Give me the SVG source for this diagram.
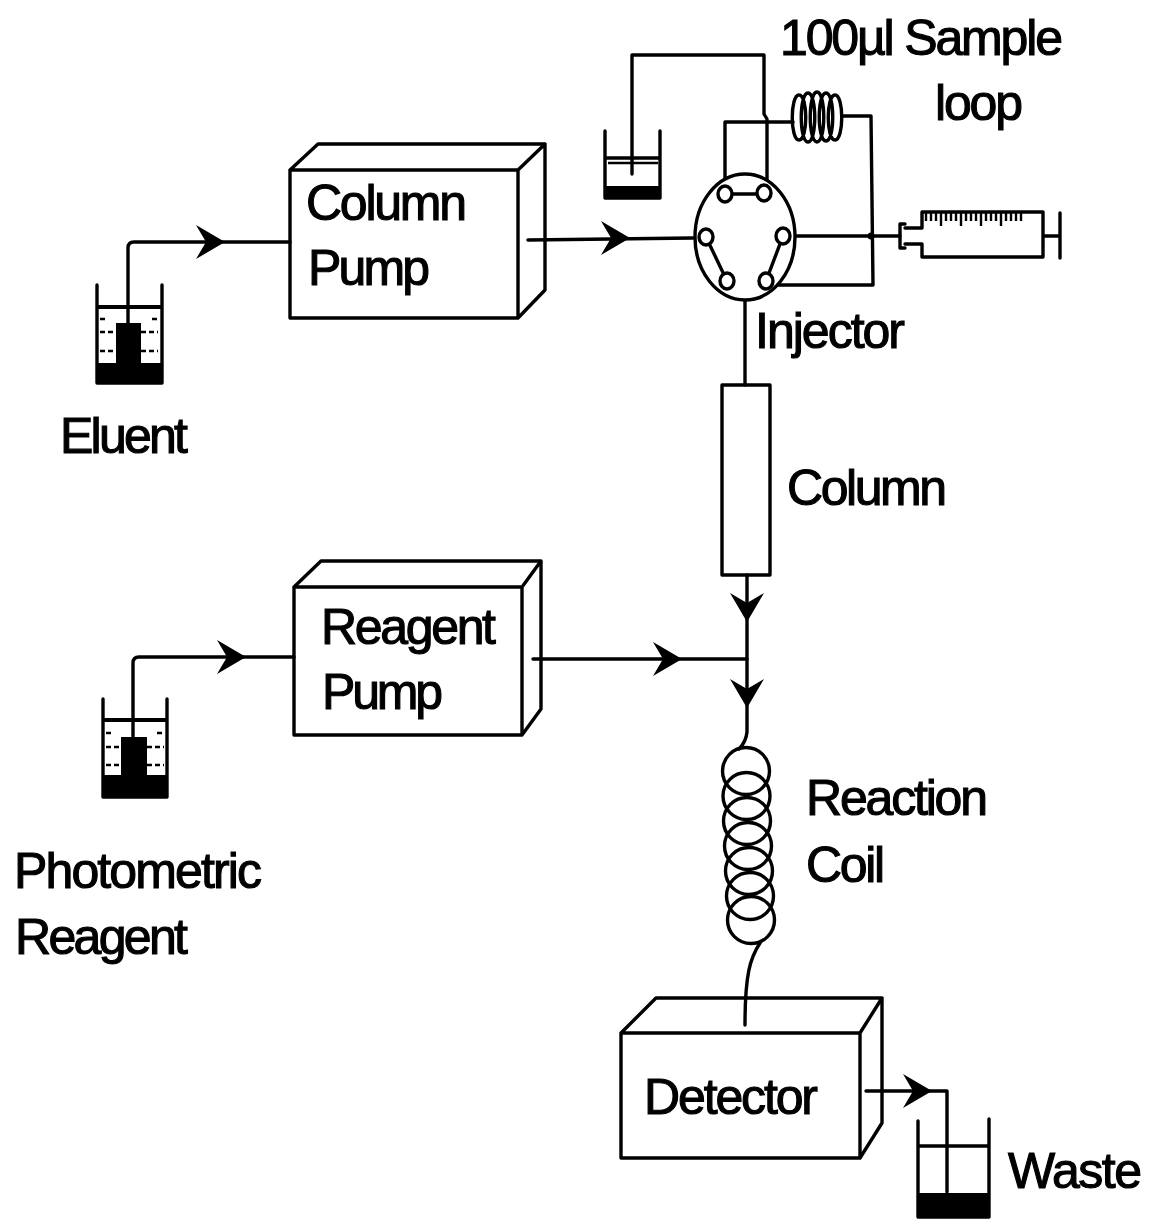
<svg xmlns="http://www.w3.org/2000/svg" width="1150" height="1219" viewBox="0 0 1150 1219">
<style>
.l{fill:none;stroke:#000;stroke-width:3.4;stroke-linejoin:round;stroke-linecap:round}
.t{fill:none;stroke:#000;stroke-width:2.4}
.b{fill:#000;stroke:none}
.w{fill:#fff;stroke:#000;stroke-width:3.4}
text{font-family:"Liberation Sans",Arial,sans-serif;font-size:50px;fill:#000;stroke:#000;stroke-width:1.1}
</style>
<defs>
<path id="ah" class="b" d="M0 0L-29-17L-19 0L-29 17Z" fill="#000"/>
</defs>
<rect width="1150" height="1219" fill="#fff"/>
<g id="connectors">
<path class="l" d="M128 323V248Q128 242 134 242H290"/>
<path class="l" d="M528 240L693 238"/>
<path class="l" d="M133 737V663Q133 657 139 657H294"/>
<path class="l" d="M533 659H747"/>
<path class="l" d="M745 300V385"/>
<path class="l" d="M747 575V732Q746 742 739 749"/>
<path class="l" d="M760 943C750 958 745 975 745 1025"/>
<path class="l" d="M866 1091H947V1192"/>
<path class="l" d="M632 174V55H764V114L767 119V187"/>
<path class="l" d="M725 187V122H793"/>
<path class="l" d="M842 116H871L873 285H775"/>
<path class="l" d="M793 236H900"/>
<circle class="b" cx="871" cy="236" r="3.500"/>
<use href="#ah" transform="translate(225 242)"/>
<use href="#ah" transform="translate(630 238)"/>
<use href="#ah" transform="translate(246 657)"/>
<use href="#ah" transform="translate(682 659)"/>
<use href="#ah" transform="translate(747 622) rotate(90)"/>
<use href="#ah" transform="translate(747 708) rotate(90)"/>
<use href="#ah" transform="translate(932 1091)"/>
</g>
<g id="eluent-beaker">
<path class="l" d="M97 285V383H162V285"/>
<path class="b" d="M97 305H162V309H97ZM97 363H116V323H141V363H162V384H97Z"/>
<path class="t" d="M100 319h6M152 319h6M100 332h16M141 332h17M100 351h16M141 351h17" stroke-dasharray="5 3"/>
</g>
<g id="column-pump">
<path class="l" d="M290 170H518V318H290ZM290 170L318 144H545V290L518 318M518 170L545 144"/>
<text x="306" y="220" textLength="161" lengthAdjust="spacing">Column</text>
<text x="308" y="285" textLength="122" lengthAdjust="spacing">Pump</text>
</g>
<g id="sample-beaker">
<path class="l" d="M605 131V198H660V131M605 158H660"/>
<path class="b" d="M605 186H660V199H605Z"/>
<path class="t" d="M608 163H658"/>
</g>
<g id="sample-loop">
<path class="l" d="M799 95C790 95 790 140 799 140C808 140 808 95 799 95M808 93C799 93 799 142 808 142C817 142 817 93 808 93M817 92C808 92 808 142 817 142C826 142 826 92 817 92M826 93C817 93 817 141 826 141C835 141 835 93 826 93M835 95C826 95 826 140 835 140C844 140 844 95 835 95"/>
</g>
<g id="injector">
<ellipse class="w" cx="745" cy="237" rx="50" ry="63"/>
<path class="l" d="M725 194H764M706 237L727 281M783 236L766 281"/>
<ellipse class="w" cx="725" cy="194" rx="7" ry="8"/>
<ellipse class="w" cx="764" cy="193" rx="7" ry="8"/>
<ellipse class="w" cx="706" cy="237" rx="7" ry="8"/>
<ellipse class="w" cx="783" cy="236" rx="7" ry="8"/>
<ellipse class="w" cx="727" cy="281" rx="7" ry="8"/>
<ellipse class="w" cx="766" cy="281" rx="7" ry="8"/>
<text x="755" y="348" textLength="150" lengthAdjust="spacing">Injector</text>
</g>
<g id="syringe">
<path class="l" d="M905 228H922V212H1043V257H922V244H905M905 224H900V248H905M1043 236H1060M1060 213V258"/>
<path class="t" d="M926 212v9M931 212v9M936 212v9M941 212v14M946 212v9M951 212v9M956 212v9M961 212v14M966 212v9M971 212v9M976 212v9M981 212v14M986 212v9M991 212v9M996 212v9M1001 212v14M1006 212v9M1011 212v9M1016 212v9M1021 212v9"/>
</g>
<g id="sample-loop-label">
<text x="780" y="55" textLength="283" lengthAdjust="spacing">100µl Sample</text>
<text x="935" y="120" textLength="88" lengthAdjust="spacing">loop</text>
</g>
<g id="eluent-label"><text x="60" y="453" textLength="128" lengthAdjust="spacing">Eluent</text></g>
<g id="column">
<rect class="l" x="722" y="385" width="48" height="190"/>
<text x="787" y="505" textLength="160" lengthAdjust="spacing">Column</text>
</g>
<g id="reagent-pump">
<path class="l" d="M294 587H522V735H294ZM294 587L321 561H541V709L522 735M522 587L541 561"/>
<text x="321" y="644" textLength="175" lengthAdjust="spacing">Reagent</text>
<text x="322" y="709" textLength="121" lengthAdjust="spacing">Pump</text>
</g>
<g id="reagent-beaker">
<path class="l" d="M103 699V797H167V699"/>
<path class="b" d="M103 718H167V722H103ZM103 775H121V737H147V775H167V798H103Z"/>
<path class="t" d="M106 733h6M157 733h6M106 747h15M147 747h17M106 765h15M147 765h17" stroke-dasharray="5 3"/>
</g>
<g id="photometric-reagent-label">
<text x="14" y="888" textLength="248" lengthAdjust="spacing">Photometric</text>
<text x="15" y="954" textLength="173" lengthAdjust="spacing">Reagent</text>
</g>
<g id="reaction-coil">
<circle class="l" cx="746" cy="771" r="23.500"/>
<circle class="l" cx="746.500" cy="796" r="23.500"/>
<circle class="l" cx="747" cy="821" r="23.500"/>
<circle class="l" cx="748" cy="846" r="23.500"/>
<circle class="l" cx="749" cy="871" r="23.500"/>
<circle class="l" cx="750" cy="896" r="23.500"/>
<circle class="l" cx="751" cy="920" r="23.500"/>
<text x="806" y="815" textLength="182" lengthAdjust="spacing">Reaction</text>
<text x="806" y="882" textLength="79" lengthAdjust="spacing">Coil</text>
</g>
<g id="detector">
<path class="l" d="M621 1033H860V1158H621ZM621 1033L656 998H882V1123L860 1158M860 1033L882 998"/>
<text x="644" y="1114" textLength="174" lengthAdjust="spacing">Detector</text>
</g>
<g id="waste">
<path class="l" d="M918 1121V1217H989V1119M918 1146H989"/>
<path class="b" d="M918 1193H989V1218H918Z"/>
<text x="1008" y="1188" textLength="134" lengthAdjust="spacing">Waste</text>
</g>
</svg>
